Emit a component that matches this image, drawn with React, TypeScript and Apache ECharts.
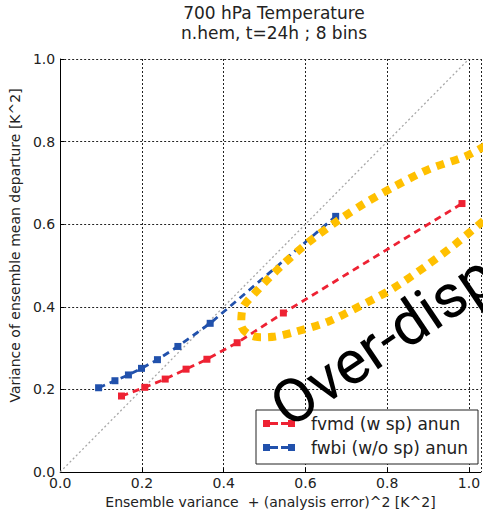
import React, { useEffect, useRef } from "react";
import * as echarts from "echarts";

const titleLines = ["700 hPa Temperature", "n.hem, t=24h ; 8 bins"];
const xAxisTitle = "Ensemble variance  + (analysis error)^2 [K^2]";
const yAxisTitle = "Variance of ensemble mean departure [K^2]";
const seriesNames = ["fvmd (w sp) anun", "fwbi (w/o sp) anun"];
const annotationText = "Over-disp";

// fvmd (w sp) anun
const redX = [0.150, 0.207, 0.257, 0.308, 0.359, 0.433, 0.546, 0.983];
const redY = [0.184, 0.205, 0.225, 0.249, 0.273, 0.313, 0.385, 0.650];
// fwbi (w/o sp) anun
const blueX = [0.094, 0.134, 0.167, 0.199, 0.238, 0.288, 0.367, 0.674];
const blueY = [0.204, 0.221, 0.235, 0.251, 0.272, 0.304, 0.360, 0.619];

// diagonal y = x
const diagX = [0, 1];
const diagY = [0, 1];

// hand-drawn yellow annotation (upper arm, tip, lower arm)
const ringX = [1.04, 0.991, 0.904, 0.821, 0.744, 0.680, 0.607, 0.538, 0.475, 0.446, 0.443, 0.460, 0.490, 0.526, 0.570, 0.655, 0.736, 0.815, 0.894, 0.967, 1.04];
const ringY = [0.790, 0.764, 0.734, 0.693, 0.650, 0.609, 0.556, 0.496, 0.432, 0.395, 0.355, 0.334, 0.326, 0.328, 0.338, 0.364, 0.403, 0.445, 0.498, 0.552, 0.612];

const zip = (a: number[], b: number[]) => a.map((v, i) => [v, b[i]]);

const RED = "#ee2233";
const BLUE = "#2151ac";
const YELLOW = "#ffc000";
const FONT = "DejaVu Sans";

const legendIcon = "path://M0,0h7v7h-7z M7,2h8v3h-8z M18,2h7v3h-7z M25,0h7v7h-7z";

export default function App() {
  const ref = useRef<HTMLDivElement>(null);
  useEffect(() => {
    if (!ref.current) return;
    const chart = echarts.init(ref.current, null, { renderer: "svg" });
    const plotH = 413;
    const plotW = 483 - 58;
    const option: any = {
      animation: false,
      backgroundColor: "#fff",
      title: {
        text: titleLines[0],
        subtext: titleLines[1],
        left: 274,
        top: 4,
        padding: 0,
        itemGap: 3,
        textAlign: "center",
        textStyle: { fontFamily: FONT, fontSize: 17, fontWeight: "normal", color: "#222", lineHeight: 17 },
        subtextStyle: { fontFamily: FONT, fontSize: 17, fontWeight: "normal", color: "#222", lineHeight: 17 },
      },
      grid: { left: 58, right: 0, top: 59, height: plotH, containLabel: false },
      legend: {
        orient: "vertical",
        left: 256,
        top: 410,
        padding: [5, 10, 8, 7],
        itemGap: 7,
        itemWidth: 32,
        itemHeight: 7,
        borderColor: "#222",
        borderWidth: 1,
        borderRadius: 0,
        backgroundColor: "#fff",
        textStyle: { fontFamily: FONT, fontSize: 17, color: "#222", padding: [0, 0, 0, 11] },
        data: [
          { name: seriesNames[0], icon: legendIcon },
          { name: seriesNames[1], icon: legendIcon },
        ],
      },
      xAxis: {
        type: "value",
        min: 0,
        max: plotW / plotH,
        interval: 0.2,
        name: xAxisTitle,
        nameLocation: "middle",
        nameGap: 23,
        nameTextStyle: { fontFamily: FONT, fontSize: 14, color: "#222" },
        axisLine: { show: true, lineStyle: { color: "#000", width: 1 } },
        axisTick: { show: true, inside: true, length: 4, lineStyle: { color: "#000" } },
        axisLabel: { fontFamily: FONT, fontSize: 14, color: "#222", margin: 4, formatter: (v: number) => v.toFixed(1) },
        splitLine: { show: true, lineStyle: { color: "#222", width: 1, type: [2, 2] } },
      },
      yAxis: {
        type: "value",
        min: 0,
        max: 1,
        interval: 0.2,
        name: yAxisTitle,
        nameLocation: "middle",
        nameRotate: 90,
        nameGap: 33,
        nameTextStyle: { fontFamily: FONT, fontSize: 14, color: "#222", padding: [0, 0, 0, 40] },
        axisLine: { show: true, lineStyle: { color: "#000", width: 1 } },
        axisTick: { show: true, inside: true, length: 4, lineStyle: { color: "#000" } },
        axisLabel: { fontFamily: FONT, fontSize: 14, color: "#222", margin: 5, formatter: (v: number) => v.toFixed(1) },
        splitLine: { show: true, lineStyle: { color: "#222", width: 1, type: [2, 2] } },
      },
      series: [
        {
          name: "diagonal",
          type: "line",
          data: zip(diagX, diagY),
          symbol: "none",
          lineStyle: { color: "#a8a8a8", width: 1.3, type: [2, 2.5] },
          z: 2,
          silent: true,
        },
        {
          name: seriesNames[0],
          type: "line",
          data: zip(redX, redY),
          symbol: "rect",
          symbolSize: 7,
          itemStyle: { color: RED },
          lineStyle: { color: RED, width: 2.8, type: [7, 5] },
          z: 3,
        },
        {
          name: seriesNames[1],
          type: "line",
          data: zip(blueX, blueY),
          symbol: "rect",
          symbolSize: 7,
          itemStyle: { color: BLUE },
          lineStyle: { color: BLUE, width: 2.8, type: [7, 5] },
          z: 3,
        },
        {
          name: "annotation",
          type: "line",
          data: zip(ringX, ringY),
          symbol: "none",
          smooth: 0.3,
          lineStyle: { color: YELLOW, width: 8, type: [8, 7], cap: "butt" },
          z: 5,
          silent: true,
        },
      ],
      graphic: [
        {
          type: "text",
          x: 277,
          y: 412,
          rotation: (34 * Math.PI) / 180,
          z: 100,
          style: {
            text: annotationText,
            fontFamily: "Roboto",
            fontSize: 61,
            fill: "#000",
            align: "left",
            verticalAlign: "middle",
          },
        },
      ],
    };
    chart.setOption(option);
    return () => chart.dispose();
  }, []);
  return (
    <div
      ref={ref}
      style={{ position: "fixed", left: 0, top: 0, width: 483, height: 514, background: "#fff" }}
    />
  );
}
